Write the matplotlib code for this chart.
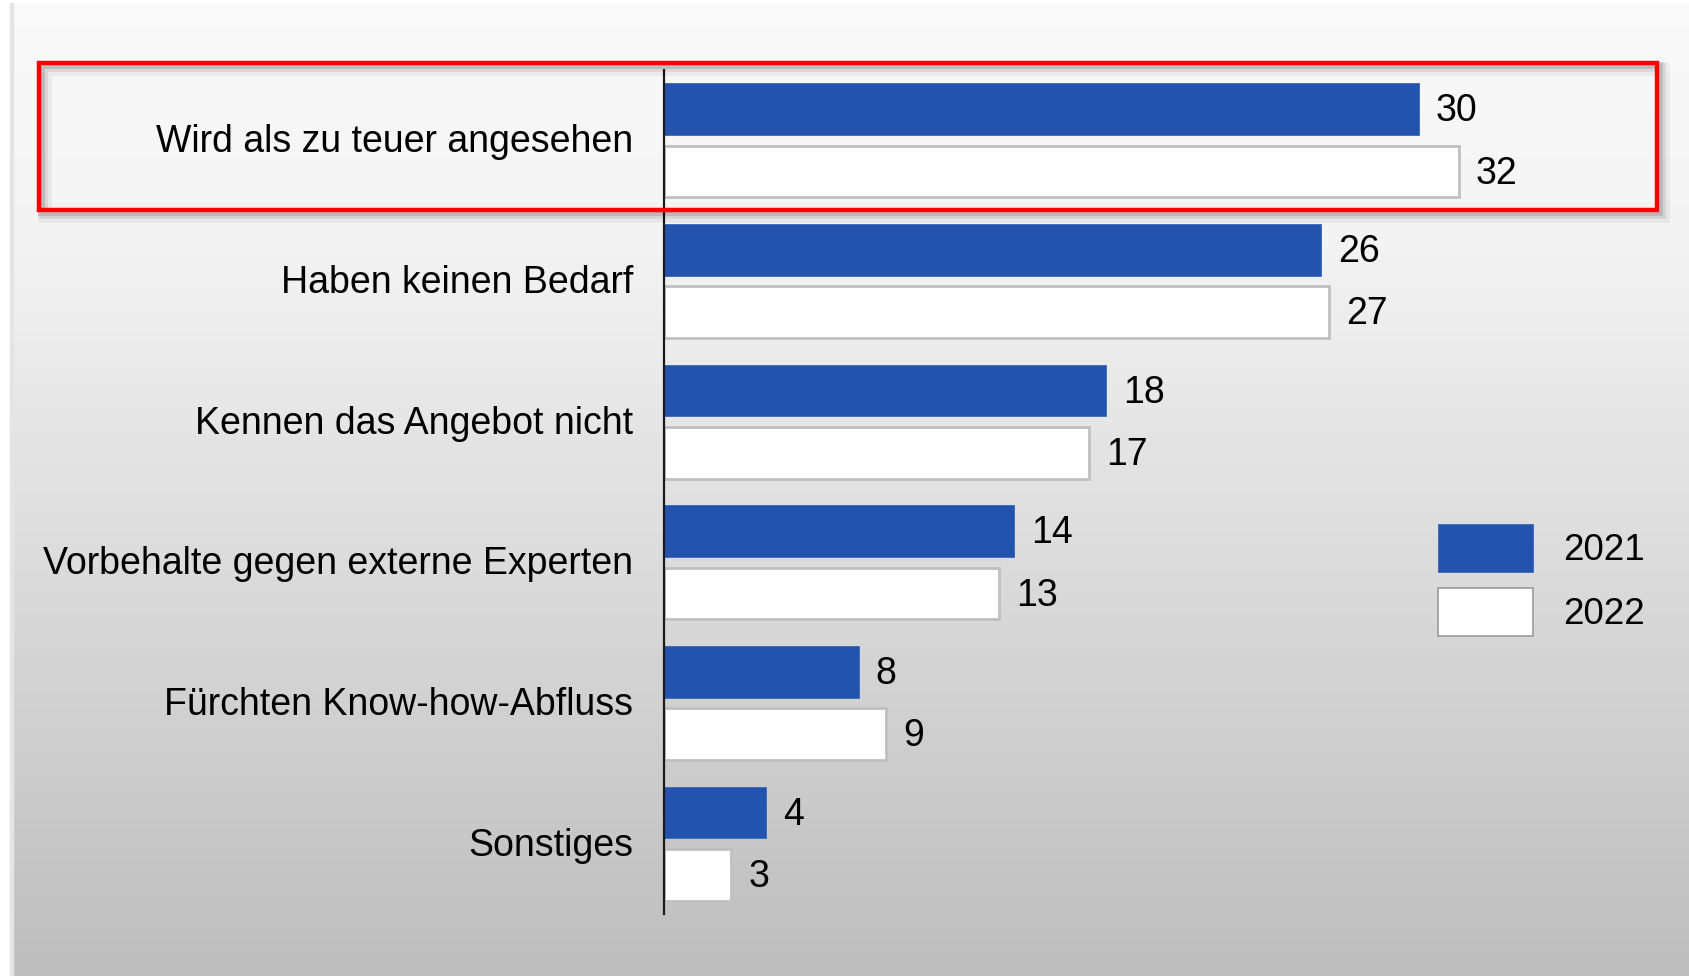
import numpy as np
import matplotlib
matplotlib.use("Agg")
import matplotlib.pyplot as plt
import matplotlib.transforms as mtransforms
from matplotlib.patches import Rectangle, Patch

plt.rcParams["font.family"] = ["Liberation Sans", "DejaVu Sans"]

# Data (bar lengths, labels shown rounded)
categories = [
    "Wird als zu teuer angesehen",
    "Haben keinen Bedarf",
    "Kennen das Angebot nicht",
    "Vorbehalte gegen externe Experten",
    "Fürchten Know-how-Abfluss",
    "Sonstiges",
]
values_2021 = [30.2, 26.3, 17.7, 14.0, 7.8, 4.1]
values_2022 = [31.8, 26.6, 17.0, 13.4, 8.9, 2.7]
series_labels = ["2021", "2022"]

blue = "#2353AD"
edge_grey = "#C0C0C0"

fig = plt.figure(figsize=(16.9, 9.76), dpi=100)

# Background gradient panel
bg = fig.add_axes([0, 0, 1, 1], zorder=-10)
bg.set_axis_off()
grad = np.concatenate([np.linspace(0.975, 0.955, 60), np.linspace(0.955, 0.74, 200)])
bg.imshow(grad[:, None], aspect="auto", cmap="gray", vmin=0, vmax=1,
          extent=[0, 1, 0, 1], origin="upper")
bg.set_xlim(0, 1)
bg.set_ylim(0, 1)
# white margin left and top
bg.add_patch(Rectangle((0, 0), 10 / 1690, 1, color="white", zorder=2))
bg.add_patch(Rectangle((0, 1 - 3 / 976), 1, 3 / 976, color="white", zorder=2))
bg.add_patch(Rectangle((10 / 1690, 0), 3 / 1690, 1 - 3 / 976, color="#e4e4e4", zorder=2))

# Main axes
ax = fig.add_axes([664 / 1690, 1 - 914 / 976, (1660 - 664) / 1690, 844 / 976])
ax.set_facecolor("none")

y = np.arange(len(categories))
offset = 0.2216
height = 0.366

bars_2021 = ax.barh(y - offset, values_2021, height, color=blue,
                    edgecolor="#3a66bb", linewidth=0.6, label=series_labels[0])
bars_2022 = ax.barh(y + offset, values_2022, height, color="white",
                    edgecolor=edge_grey, linewidth=2.0, label=series_labels[1])

for bars in (bars_2021, bars_2022):
    for bar in bars:
        w = bar.get_width()
        ax.annotate(f"{w:.0f}", (w, bar.get_y() + bar.get_height() / 2),
                    xytext=(12, -1.5), textcoords="offset points",
                    ha="left", va="center", fontsize=27)

ax.set_ylim(len(categories) - 0.5, -0.5)
ax.set_xlim(0, 39.84)
ax.set_yticks(y)
ax.set_yticklabels(categories, fontsize=27)
ax.tick_params(axis="y", length=0, pad=22)
shift = mtransforms.ScaledTranslation(0, 2 / 100, fig.dpi_scale_trans)
for lbl in ax.get_yticklabels():
    lbl.set_transform(lbl.get_transform() + shift)
ax.set_xticks([])
for s in ["top", "right", "bottom"]:
    ax.spines[s].set_visible(False)
ax.spines["left"].set_linewidth(1.6)
ax.spines["left"].set_color("#1a1a1a")

# Legend
handles = [Patch(facecolor=blue, edgecolor="#3a66bb", linewidth=0.6),
           Patch(facecolor="white", edgecolor="#9a9a9a", linewidth=1.2)]
fig.legend(handles, series_labels, loc="center left",
           bbox_to_anchor=(1405 / 1690, 1 - 580 / 976),
           frameon=False, fontsize=26.5, handlelength=2.58, handleheight=1.61,
           handletextpad=0.82, labelspacing=0.45)

# Red highlight box with shadow
x0, x1 = 39 / 1690, 1657 / 1690
y0, y1 = 1 - 210 / 976, 1 - 63 / 976
for k, a in [(6, 0.05), (4, 0.08), (2, 0.12)]:
    fig.patches.append(Rectangle((x0 + k / 1690, y0 - k / 976), x1 - x0, y1 - y0,
                                 transform=fig.transFigure, fill=False,
                                 edgecolor="black", alpha=a, linewidth=3.0 + k))
fig.patches.append(Rectangle((x0, y0), x1 - x0, y1 - y0, transform=fig.transFigure,
                             fill=False, edgecolor="#FF0000", linewidth=3.2, zorder=10))

fig.savefig("out.png", dpi=100)
